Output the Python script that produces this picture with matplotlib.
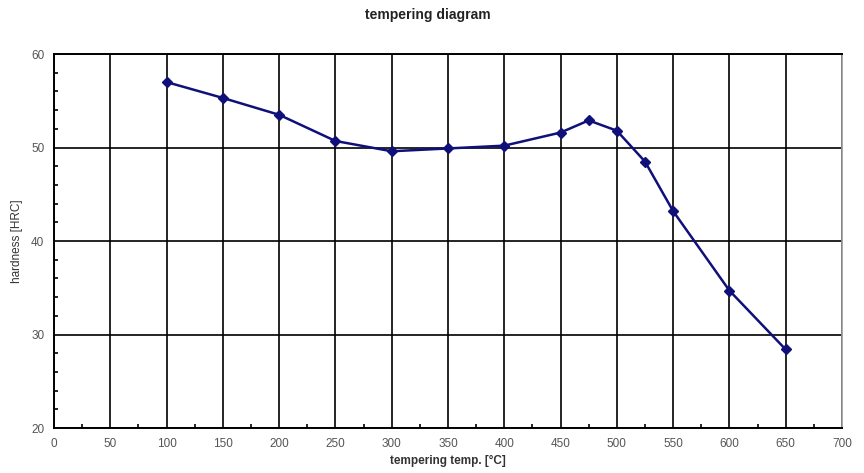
import matplotlib
matplotlib.use("Agg")
from matplotlib import pyplot as plt
from matplotlib.ticker import MultipleLocator

# tempering temperature [C] and hardness [HRC]
temps = [100, 150, 200, 250, 300, 350, 400, 450, 475, 500, 525, 550, 600, 650]
hardness = [57.0, 55.3, 53.5, 50.7, 49.6, 49.9, 50.2, 51.6, 52.9, 51.8, 48.5, 43.2, 34.7, 28.4]

plt.rcParams['font.family'] = ['Liberation Sans', 'DejaVu Sans']

fig = plt.figure(figsize=(8.64, 4.73), dpi=100)
ax = fig.add_axes([0.0625, 0.0951, 0.912, 0.7907])

ax.plot(temps, hardness, color='#10107a', lw=1.8, marker='D', ms=5,
        mfc='#10107a', mec='#10107a', zorder=3)

ax.set_xlim(0, 700)
ax.set_ylim(20, 60)
ax.xaxis.set_major_locator(MultipleLocator(50))
ax.xaxis.set_minor_locator(MultipleLocator(25))
ax.yaxis.set_major_locator(MultipleLocator(10))
ax.yaxis.set_minor_locator(MultipleLocator(2))
ax.grid(True, which='major', color='black', lw=1.2)

ax.tick_params(which='both', direction='in', labelsize=8.5, labelcolor='#555555',
               top=False, right=False)
ax.tick_params(which='major', length=0, pad=7)
ax.tick_params(which='minor', length=3, width=1.2, color='black')

for s in ['left', 'bottom', 'top']:
    ax.spines[s].set_linewidth(1.4)
    ax.spines[s].set_color('black')
ax.spines['right'].set_color('#999999')
ax.spines['right'].set_linewidth(1.2)

ax.set_xlabel('tempering temp. [°C]', fontsize=8.5, fontweight='bold', color='#333333', labelpad=4)
ax.set_ylabel('hardness [HRC]', fontsize=8.5, color='#333333', labelpad=6)
fig.text(0.495, 0.968, 'tempering diagram', ha='center', va='center',
         fontsize=10, fontweight='bold', color='#222222')

fig.savefig('out.png', dpi=100)
